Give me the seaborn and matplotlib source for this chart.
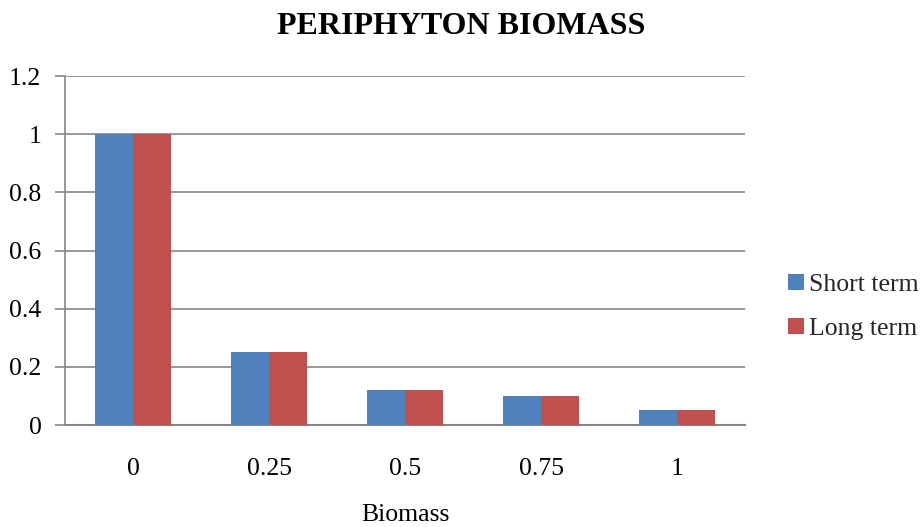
import matplotlib
matplotlib.use("Agg")
import matplotlib.pyplot as plt
from matplotlib.patches import Patch
import seaborn as sns
import pandas as pd

categories = ["0", "0.25", "0.5", "0.75", "1"]
short_term = [1.0, 0.25, 0.12, 0.10, 0.05]
long_term = [1.0, 0.25, 0.12, 0.10, 0.05]
series_names = ["Short term", "Long term"]
y_ticks = [0, 0.2, 0.4, 0.6, 0.8, 1, 1.2]
y_tick_labels = ["0", "0.2", "0.4", "0.6", "0.8", "1", "1.2"]

colors = ["#4F81BD", "#C0504D"]
grid_color = "#868686"

df = pd.DataFrame({
    "Biomass": categories * 2,
    "value": short_term + long_term,
    "series": [series_names[0]] * len(categories) + [series_names[1]] * len(categories),
})

sns.set_theme(style="white")
plt.rcParams["font.family"] = ["Liberation Serif", "DejaVu Serif"]

fig = plt.figure(figsize=(9.22, 5.27), dpi=100)
ax = fig.add_axes([65 / 922, 102 / 527, 680 / 922, 349 / 527])

sns.barplot(data=df, x="Biomass", y="value", hue="series", order=categories,
            hue_order=series_names, palette=colors, width=0.56, saturation=1,
            edgecolor="none", linewidth=0, legend=False, ax=ax, zorder=3)

ax.set_ylim(0, 1.2)
ax.set_xlim(-0.5, len(categories) - 0.5)
ax.set_yticks(y_ticks)
ax.set_yticklabels(y_tick_labels)
ax.yaxis.grid(True, color=grid_color, linewidth=1.2, zorder=0)
ax.set_axisbelow(True)

for side in ["top", "right"]:
    ax.spines[side].set_visible(False)
ax.spines["left"].set_color(grid_color)
ax.spines["bottom"].set_color(grid_color)
ax.spines["left"].set_linewidth(1.2)
ax.spines["bottom"].set_linewidth(1.5)

ax.tick_params(axis="y", which="major", left=True, length=7, width=1.2,
               color=grid_color, labelsize=18.5, pad=10, labelcolor="black")
ax.tick_params(axis="x", bottom=False, labelsize=18.5, pad=18, labelcolor="black")

ax.set_ylabel("")
ax.set_xlabel("Biomass", fontsize=18.5, color="black", va="center")
ax.xaxis.set_label_coords(0.5, -(515 - 425) / 349)

fig.text(0.5, 1 - 26 / 527, "PERIPHYTON BIOMASS", fontsize=23, fontweight="bold",
         ha="center", va="center", color="black")

handles = [Patch(facecolor=c, edgecolor="none") for c in colors]
fig.legend(handles, series_names, loc="center left", bbox_to_anchor=(778 / 922, 1 - 307 / 527),
           frameon=False, fontsize=18.5, handlelength=0.6, handleheight=0.6,
           handletextpad=0.2, labelspacing=0.85, borderaxespad=0)

fig.savefig("out.png", dpi=100)
